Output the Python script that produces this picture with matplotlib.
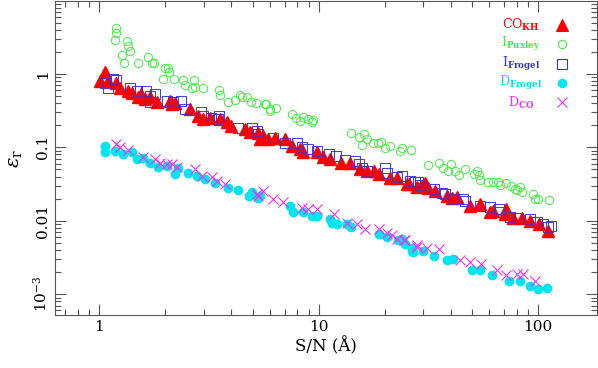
import matplotlib
matplotlib.use("Agg")
import matplotlib.pyplot as plt
from matplotlib.ticker import FixedLocator, FixedFormatter, LogLocator, NullFormatter

plt.rcParams['font.family'] = ['DejaVu Serif']
plt.rcParams['mathtext.fontset'] = 'dejavuserif'

# I_Puxley (green open circles)
pux_x = [1.19, 1.20, 1.18, 1.34, 1.35, 1.38, 1.27, 1.30, 1.50, 1.67, 1.74, 1.77, 1.99, 2.05, 2.08,
         1.96, 2.20, 2.40, 2.46, 2.72, 2.74, 2.64, 2.99, 3.52, 3.56, 3.85, 4.17, 4.39, 4.47, 4.70,
         4.93, 5.20, 5.70, 5.76, 6.01, 6.41, 6.01, 7.55, 7.90, 8.24, 8.52, 8.97, 9.3, 9.47,
         14.0, 15.2, 16.1, 16.6, 15.8, 17.7, 18.7, 19.2, 20.1, 21.2, 23.5, 23.9, 26.4,
         31.4, 35.2, 36.8, 39.0, 40.0, 41.6, 43.8, 46.2, 50.9, 52.8, 53.9, 54.4, 59.2, 62.6,
         65.8, 67.1, 71.7, 75.5, 78.6, 82.8, 79.8, 84.3, 95.2, 96.9, 99.5, 112]
pux_y = [4.27, 3.6, 2.87, 2.81, 2.40, 2.06, 1.82, 1.40, 1.40, 1.72, 1.40, 1.40, 1.20, 1.22, 1.07,
         0.85, 0.85, 0.83, 0.71, 0.83, 0.67, 0.65, 0.64, 0.61, 0.52, 0.42, 0.44, 0.52, 0.48, 0.49,
         0.41, 0.40, 0.39, 0.39, 0.33, 0.34, 0.31, 0.28, 0.25, 0.23, 0.26, 0.24, 0.22, 0.235,
         0.155, 0.139, 0.151, 0.129, 0.108, 0.116, 0.116, 0.119, 0.098, 0.103, 0.090, 0.099, 0.092,
         0.058, 0.062, 0.053, 0.048, 0.060, 0.048, 0.042, 0.050, 0.043, 0.048, 0.042, 0.036, 0.034, 0.034,
         0.034, 0.031, 0.033, 0.030, 0.027, 0.029, 0.026, 0.025, 0.023, 0.020, 0.0197, 0.0193]

# CO_KH (red filled triangles)
cokh_x = [1.06, 1.01, 1.10, 1.20, 1.25, 1.36, 1.41, 1.51, 1.56, 1.62, 1.71, 1.83, 2.11, 2.14, 2.22,
          2.60, 2.83, 2.98, 3.20, 3.56, 3.82, 4.00, 4.62, 4.87, 5.3, 5.56, 5.41, 5.9, 6.34, 7.04,
          7.55, 8.24, 8.52, 9.8, 10.5, 11.3, 12.7, 13.9, 15.5, 16.6, 17.8, 18.8, 21.2, 22.7, 25.3,
          28.0, 25.7, 29.5, 30.6, 31.6, 34.0, 38.4, 40.5, 42.5, 49.0, 54.4, 60.4, 62.6, 71.3, 70.7,
          77.2, 84.3, 92.0, 100.4, 111]
cokh_y = [1.07, 0.80, 0.80, 0.76, 0.65, 0.59, 0.55, 0.49, 0.53, 0.45, 0.48, 0.42, 0.43, 0.39, 0.40,
          0.33, 0.27, 0.24, 0.25, 0.24, 0.22, 0.196, 0.177, 0.163, 0.156, 0.143, 0.129, 0.129, 0.133, 0.129,
          0.105, 0.095, 0.085, 0.085, 0.073, 0.069, 0.062, 0.062, 0.050, 0.048, 0.048, 0.043, 0.038, 0.038, 0.032,
          0.029, 0.032, 0.030, 0.033, 0.028, 0.0256, 0.0219, 0.0204, 0.021, 0.016, 0.017, 0.0131, 0.0137, 0.0144, 0.0122,
          0.0108, 0.0108, 0.0100, 0.0090, 0.0072]

# I_Frogel (blue open squares)
ifro_x = [1.06, 1.10, 1.16, 1.20, 1.38, 1.49, 1.63, 1.71, 1.80, 1.71, 2.03, 2.18, 2.36, 2.46, 2.91,
          2.98, 3.24, 3.52, 3.47, 4.31, 4.96, 5.23, 5.32, 6.2, 7.04, 7.95, 8.38, 8.97, 9.8, 11.1,
          12.0, 13.2, 14.7, 15.2, 15.7, 16.6, 20.1, 20.5, 22.7, 26.0, 28.5, 23.9, 27.5, 29.0, 30.0,
          33.4, 36.5, 37.7, 41.1, 45.7, 46.5, 54.4, 60.4, 66.0, 67.1, 74.5, 81.0, 92.0, 98.8, 105,
          111, 115]
ifro_y = [0.74, 0.65, 0.86, 0.83, 0.65, 0.59, 0.59, 0.50, 0.53, 0.41, 0.43, 0.41, 0.43, 0.33, 0.30,
          0.27, 0.25, 0.27, 0.24, 0.186, 0.183, 0.168, 0.151, 0.136, 0.116, 0.116, 0.101, 0.095, 0.090, 0.081,
          0.077, 0.067, 0.066, 0.059, 0.052, 0.048, 0.052, 0.045, 0.039, 0.035, 0.034, 0.041, 0.034, 0.031, 0.028,
          0.027, 0.024, 0.023, 0.020, 0.020, 0.0183, 0.016, 0.0152, 0.0144, 0.0130, 0.0113, 0.0110, 0.0104, 0.0095, 0.0090,
          0.0082, 0.0086]

# D_Frogel (cyan filled circles)
dfro_x = [1.065, 1.065, 1.18, 1.29, 1.41, 1.49, 1.59, 1.71, 1.86, 2.03, 2.22, 2.30, 2.55, 2.78, 3.04,
          3.38, 3.88, 4.31, 4.82, 5.32, 4.95, 5.41, 7.42, 7.68, 8.52, 9.3, 9.8, 11.3, 11.5, 12.1,
          13.4, 14.1, 18.8, 20.5, 23.1, 24.8, 26.5, 27.0, 23.9, 26.5, 29.9, 33.4, 38.4, 41.1, 49.8,
          54.4, 61.5, 73.3, 82.8, 92, 100, 110]
dfro_y = [0.105, 0.087, 0.090, 0.081, 0.085, 0.069, 0.072, 0.062, 0.054, 0.056, 0.043, 0.053, 0.045, 0.041, 0.037,
          0.033, 0.028, 0.026, 0.0219, 0.0207, 0.0245, 0.0219, 0.0160, 0.0130, 0.0130, 0.0117, 0.0117, 0.0105, 0.0094, 0.0090,
          0.0090, 0.0082, 0.0067, 0.0060, 0.0054, 0.0048, 0.0042, 0.0037, 0.0057, 0.0039, 0.0039, 0.0033, 0.0029, 0.0030, 0.0021,
          0.0021, 0.0018, 0.0015, 0.00153, 0.00128, 0.00116, 0.00122]

# D_CO (magenta crosses)
dco_x = [1.20, 1.25, 1.36, 1.59, 1.80, 1.90, 2.03, 2.14, 2.26, 2.74, 2.93, 3.26, 3.43, 3.75, 5.32,
         5.23, 5.61, 6.22, 6.9, 8.38, 8.97, 9.8, 11.7, 13.4, 14.9, 16.3, 18.8, 20.5, 21.6, 22.7,
         24.4, 28.0, 24.8, 28.0, 31.1, 35.2, 44.1, 49.0, 55.1, 64.9, 71.7, 79.8, 85.6, 96.9]
dco_y = [0.110, 0.100, 0.092, 0.074, 0.069, 0.062, 0.059, 0.059, 0.054, 0.050, 0.041, 0.039, 0.035, 0.032, 0.0219,
         0.0231, 0.0256, 0.0199, 0.0178, 0.0151, 0.0144, 0.0144, 0.0122, 0.0092, 0.0090, 0.0077, 0.0077, 0.0069, 0.0063, 0.0057,
         0.0054, 0.0044, 0.0054, 0.0046, 0.0043, 0.0041, 0.0029, 0.0027, 0.0026, 0.0021, 0.0018, 0.0019, 0.0019, 0.0015]

labels = [r'CO$_{\mathbf{KH}}$', r'I$_{\mathbf{Puxley}}$', r'I$_{\mathbf{Frogel}}$',
          r'D$_{\mathbf{Frogel}}$', r'D$_{\mathbf{CO}}$']
colors = ['#ff0000', '#44ee44', '#3333dd', '#00e5ee', '#ee33ee']

fig = plt.figure(figsize=(5.98, 3.68), dpi=100)
ax = fig.add_axes([0.092, 0.144, 0.906, 0.853])

ax.plot(pux_x, pux_y, 'o', ms=6, mfc='none', mec=colors[1], mew=0.7)
ax.plot(ifro_x, ifro_y, 's', ms=6.5, mfc='none', mec=colors[2], mew=0.8, alpha=0.8)
ax.plot(cokh_x, cokh_y, '^', ms=8, color=colors[0], mec=colors[0])
ax.plot(ifro_x, ifro_y, 's', ms=6.5, mfc='none', mec=colors[2], mew=0.7, alpha=0.6)
ax.plot(dfro_x, dfro_y, 'o', ms=6, color=colors[3], mec=colors[3])
ax.plot(dco_x, dco_y, 'x', ms=7, color=colors[4], mew=0.8)

ax.set_xscale('log')
ax.set_yscale('log')
ax.set_xlim(0.63, 185)
ax.set_ylim(5.2e-4, 9.8)

ax.xaxis.set_major_locator(FixedLocator([1, 10, 100]))
ax.xaxis.set_major_formatter(FixedFormatter(['1', '10', '100']))
ax.xaxis.set_minor_locator(LogLocator(base=10, subs=range(2, 10)))
ax.xaxis.set_minor_formatter(NullFormatter())
ax.yaxis.set_major_locator(FixedLocator([1e-3, 1e-2, 0.1, 1]))
ax.yaxis.set_major_formatter(FixedFormatter([r'$10^{-3}$', '0.01', '0.1', '1']))
ax.yaxis.set_minor_locator(LogLocator(base=10, subs=range(2, 10)))
ax.yaxis.set_minor_formatter(NullFormatter())

ax.tick_params(which='both', direction='in', top=True, right=True, color='#555555', width=0.8)
ax.tick_params(which='major', length=8, labelsize=11)
ax.tick_params(which='minor', length=4)
for lab in ax.get_yticklabels():
    lab.set_rotation(90)
    lab.set_va('center')
for sp in ax.spines.values():
    sp.set_color('#555555')
    sp.set_linewidth(0.8)

ax.set_xlabel('S/N (Å)', fontsize=12, labelpad=2)
ax.set_ylabel(r'$\varepsilon_{\rm r}$', fontsize=14, labelpad=6)

# legend drawn as coloured text plus a marker symbol
markers = [('^', colors[0], colors[0], 8), ('o', 'none', colors[1], 6), ('s', 'none', colors[2], 6.5),
           ('o', colors[3], colors[3], 6), ('x', colors[4], colors[4], 7)]
for i, (lab, col, mk) in enumerate(zip(labels, colors, markers)):
    yy = 0.925 - i * 0.062
    ax.text(0.86, yy, lab, color=col, fontsize=9, ha='center', va='center', transform=ax.transAxes)
    ax.plot([0.935], [yy], marker=mk[0], mfc=mk[1], mec=mk[2], color=mk[2], ms=mk[3], mew=0.8,
            transform=ax.transAxes, linestyle='none')

plt.savefig('out.png', dpi=100)
